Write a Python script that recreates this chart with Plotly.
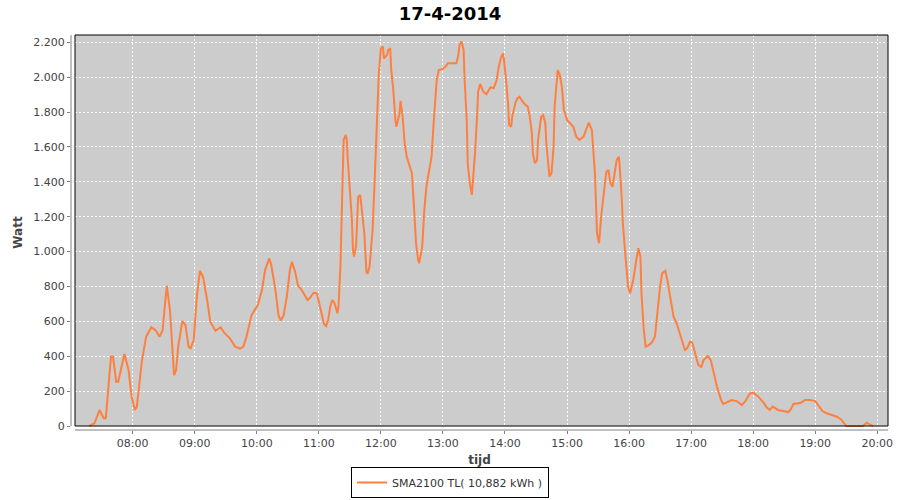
import plotly.graph_objects as go

DATE = "2014-04-17"
times = [
    "07:18", "07:23", "07:28", "07:32", "07:34", "07:36", "07:39", "07:41", "07:44", "07:46",
    "07:52", "07:56", "07:59", "08:02", "08:04", "08:09", "08:13", "08:18", "08:22", "08:26",
    "08:29", "08:31", "08:33", "08:36", "08:39", "08:40", "08:42", "08:44", "08:48", "08:51",
    "08:54", "08:56", "08:59", "09:02", "09:05", "09:08", "09:12", "09:15", "09:20", "09:25",
    "09:29", "09:34", "09:39", "09:44", "09:47", "09:50", "09:55", "09:58", "10:01", "10:05",
    "10:08", "10:12", "10:14", "10:18", "10:21", "10:23", "10:26", "10:29", "10:32", "10:34",
    "10:37", "10:40", "10:43", "10:49", "10:51", "10:55", "10:58", "11:00", "11:03", "11:05",
    "11:07", "11:09", "11:11", "11:13", "11:15", "11:17", "11:18", "11:19", "11:20", "11:21",
    "11:22", "11:23", "11:24", "11:26", "11:27", "11:28", "11:30", "11:32", "11:33", "11:34",
    "11:36", "11:37", "11:38", "11:40", "11:41", "11:44", "11:46", "11:47", "11:49", "11:52",
    "11:54", "11:56", "11:58", "12:00", "12:02", "12:03", "12:06", "12:07", "12:09", "12:10",
    "12:12", "12:14", "12:15", "12:18", "12:19", "12:21", "12:23", "12:25", "12:27", "12:30",
    "12:32", "12:34", "12:36", "12:37", "12:40", "12:42", "12:44", "12:47", "12:49", "12:51",
    "12:54", "12:56", "12:59", "13:02", "13:05", "13:08", "13:13", "13:15", "13:16", "13:18",
    "13:20", "13:21", "13:23", "13:24", "13:26", "13:28", "13:29", "13:31", "13:33", "13:34",
    "13:36", "13:39", "13:42", "13:44", "13:46", "13:49", "13:52", "13:54", "13:56", "13:58",
    "13:59", "14:01", "14:03", "14:04", "14:06", "14:07", "14:10", "14:12", "14:14", "14:16",
    "14:19", "14:22", "14:24", "14:26", "14:27", "14:29", "14:31", "14:32", "14:34", "14:35",
    "14:37", "14:39", "14:40", "14:42", "14:43", "14:45", "14:47", "14:48", "14:50", "14:51",
    "14:53", "14:55", "14:57", "15:00", "15:03", "15:06", "15:09", "15:12", "15:16", "15:19",
    "15:21", "15:24", "15:25", "15:27", "15:29", "15:31", "15:33", "15:36", "15:38", "15:40",
    "15:42", "15:44", "15:46", "15:48", "15:50", "15:51", "15:53", "15:54", "15:56", "15:58",
    "15:59", "16:01", "16:04", "16:07", "16:09", "16:11", "16:12", "16:14", "16:16", "16:19",
    "16:22", "16:25", "16:27", "16:30", "16:32", "16:35", "16:37", "16:40", "16:43", "16:46",
    "16:49", "16:52", "16:54", "16:56", "16:59", "17:01", "17:04", "17:07", "17:10", "17:12",
    "17:16", "17:19", "17:22", "17:25", "17:29", "17:31", "17:34", "17:39", "17:44", "17:49",
    "17:52", "17:57", "18:00", "18:05", "18:10", "18:13", "18:16", "18:19", "18:24", "18:29",
    "18:34", "18:36", "18:39", "18:44", "18:47", "18:50", "18:55", "19:00", "19:03", "19:07",
    "19:11", "19:16", "19:21", "19:25", "19:29", "19:30", "19:46", "19:50", "19:52", "19:56",
]
watt = [
    0, 15, 92, 44, 45, 189, 397, 397, 254, 254,
    413, 321, 168, 92, 111, 378, 512, 566, 550, 512,
    550, 684, 803, 665, 378, 292, 321, 455, 602, 579,
    455, 445, 493, 741, 890, 856, 722, 598, 546, 566,
    531, 503, 455, 443, 455, 512, 636, 669, 694, 780,
    894, 961, 923, 780, 636, 604, 636, 741, 894, 942,
    885, 803, 784, 722, 732, 764, 761, 713, 646, 585,
    573, 608, 684, 722, 707, 655, 646, 684, 780, 933,
    1181, 1468, 1640, 1669, 1640, 1525, 1372, 1181, 1009, 971,
    1028, 1181, 1315, 1325, 1258, 1105, 885, 872, 913, 1124,
    1411, 1697, 2022, 2166, 2175, 2108, 2127, 2156, 2166, 2041,
    1927, 1755, 1716, 1793, 1865, 1773, 1621, 1544, 1506, 1449,
    1257, 1048, 952, 933, 1028, 1239, 1372, 1487, 1544, 1736,
    1984, 2041, 2045, 2057, 2080, 2080, 2080, 2127, 2185, 2204,
    2156, 1984, 1755, 1506, 1391, 1325, 1391, 1563, 1773, 1917,
    1961, 1917, 1902, 1927, 1942, 1936, 1984, 2060, 2108, 2137,
    2099, 1984, 1850, 1726, 1716, 1773, 1850, 1879, 1888, 1869,
    1846, 1831, 1773, 1678, 1563, 1506, 1525, 1640, 1716, 1773,
    1783, 1736, 1621, 1506, 1430, 1449, 1602, 1831, 2003, 2041,
    2013, 1946, 1812, 1755, 1736, 1716, 1659, 1640, 1659, 1707,
    1739, 1697, 1602, 1449, 1105, 1048, 1200, 1372, 1458, 1468,
    1391, 1372, 1458, 1525, 1544, 1487, 1296, 1162, 1009, 894,
    799, 761, 837, 952, 1019, 971, 761, 569, 455, 464,
    478, 512, 646, 799, 876, 890, 837, 722, 627, 589,
    531, 474, 436, 445, 483, 480, 417, 350, 340, 378,
    401, 378, 302, 225, 149, 126, 134, 149, 143, 120,
    139, 187, 191, 168, 134, 107, 92, 111, 92, 84,
    80, 92, 126, 130, 136, 149, 149, 143, 120, 86,
    73, 63, 53, 38, 11, 0, 0, 19, 11, 0,
]

series_name = "SMA2100 TL( 10,882 kWh )"
title_text = "17-4-2014"
x_title = "tijd"
y_title = "Watt"

x_tick_labels = ["08:00", "09:00", "10:00", "11:00", "12:00", "13:00", "14:00",
                 "15:00", "16:00", "17:00", "18:00", "19:00", "20:00"]
y_tick_values = [0, 200, 400, 600, 800, 1000, 1200, 1400, 1600, 1800, 2000, 2200]
y_tick_labels = ["0", "200", "400", "600", "800", "1.000", "1.200", "1.400",
                 "1.600", "1.800", "2.000", "2.200"]

x = [f"{DATE} {t}" for t in times]
x_tick_vals = [f"{DATE} {t}" for t in x_tick_labels]

FONT = "DejaVu Sans"
L, R, T, B = 71, 12, 35, 70
W, H = 900, 500
pw = W - L - R
ph = H - T - B
gx = 4 / pw
gy = 4 / ph

fig = go.Figure()
fig.add_trace(go.Scatter(
    x=x, y=watt, mode="lines", name=series_name,
    line=dict(color="#ff7f3f", width=2),
))

fig.update_layout(
    width=W, height=H,
    margin=dict(l=L, r=R, t=T, b=B, autoexpand=False),
    paper_bgcolor="white", plot_bgcolor="white",
    font=dict(family=FONT, size=11, color="#444444"),
    title=dict(text=f"<b>{title_text}</b>", x=0.5, xref="container", xanchor="center",
               y=1 - 14 / H, yref="container", yanchor="middle", automargin=False,
               font=dict(family=FONT, size=18, color="black")),
    showlegend=True,
    legend=dict(orientation="h", xref="container", x=0.5, xanchor="center",
                yref="container", y=2 / H, yanchor="bottom",
                bordercolor="black", borderwidth=1, bgcolor="white",
                font=dict(family=FONT, size=11, color="#333333"),
                itemwidth=30),
    shapes=[
        dict(type="rect", xref="paper", yref="paper", x0=gx, x1=1, y0=gy, y1=1,
             fillcolor="#cccccc", line=dict(width=0), layer="below"),
        dict(type="rect", xref="paper", yref="paper", x0=gx, x1=1, y0=gy, y1=1,
             fillcolor="rgba(0,0,0,0)", line=dict(color="black", width=1), layer="above"),
        dict(type="line", xref="paper", yref="paper", x0=gx, x1=1, y0=0, y1=0,
             line=dict(color="#808080", width=1), layer="above"),
        dict(type="line", xref="paper", yref="paper", x0=0, x1=0, y0=gy, y1=1,
             line=dict(color="#808080", width=1), layer="above"),
    ],
)

fig.update_xaxes(
    type="date", automargin=False,
    range=[f"{DATE} 07:00:20", f"{DATE} 20:10:23"],
    tickvals=x_tick_vals, ticktext=x_tick_labels,
    ticks="outside", ticklen=3, tickcolor="#808080",
    showgrid=True, gridcolor="white", gridwidth=1, griddash="2px,2px",
    zeroline=False, showline=False,
    tickfont=dict(family=FONT, size=11, color="#444444"),
    title=dict(text=f"<b>{x_title}</b>", standoff=6,
               font=dict(family=FONT, size=12, color="#444444")),
)
fig.update_yaxes(
    automargin=False,
    range=[-22.9, 2241.8],
    tickvals=y_tick_values, ticktext=y_tick_labels,
    ticks="outside", ticklen=3, tickcolor="#808080",
    showgrid=True, gridcolor="white", gridwidth=1, griddash="2px,2px",
    zeroline=False, showline=False,
    tickfont=dict(family=FONT, size=11, color="#444444"),
    title=dict(text=f"<b>{y_title}</b>", standoff=8,
               font=dict(family=FONT, size=12, color="#444444")),
)

fig.write_html("out.html", config={"displayModeBar": False},
               post_script="document.body.style.margin='0px';")
